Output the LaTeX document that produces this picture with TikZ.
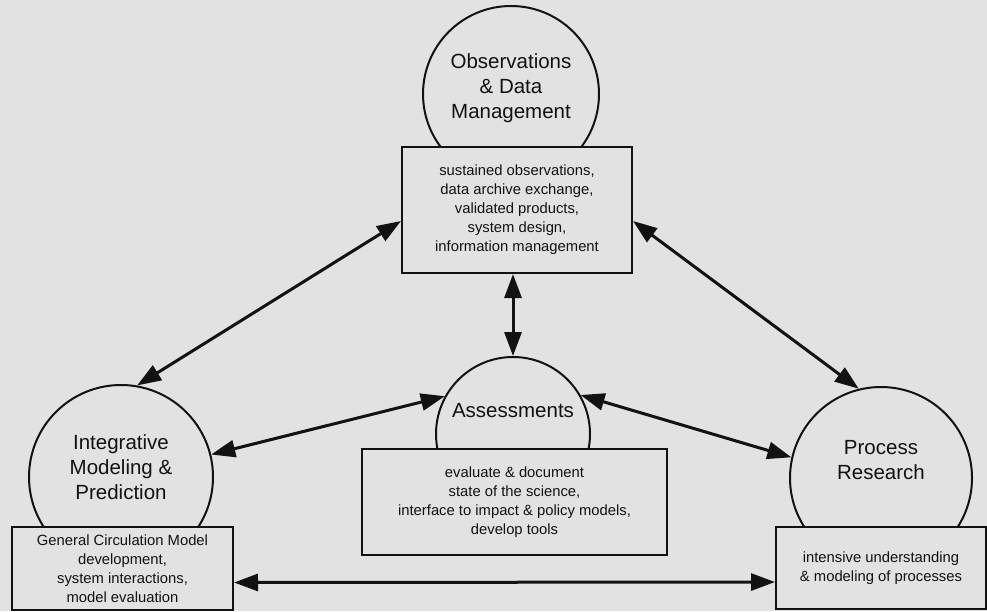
\documentclass[tikz,border=0pt]{standalone}
\usepackage{fontspec}
\setmainfont{Liberation Sans}
\usepackage{tikz}
\usetikzlibrary{arrows.meta,positioning,calc}
\definecolor{paper}{RGB}{226,226,226}
\definecolor{ink}{RGB}{18,18,18}

\tikzset{
  disc/.style={circle,draw=ink,line width=2pt,fill=paper,inner sep=0pt},
  infobox/.style={rectangle,draw=ink,line width=2pt,fill=paper,align=center,
    text=ink,inner sep=0pt,font=\fontsize{14.8}{19}\selectfont},
  headtxt/.style={align=center,text=ink,font=\fontsize{20.5}{25}\selectfont},
  link/.style={ink,line width=3pt,{Triangle[length=24pt,width=17pt]}-{Triangle[length=24pt,width=17pt]}}
}

\begin{document}
\begin{tikzpicture}[x=1pt,y=-1pt]
\fill[paper] (0,0) rectangle (987,611);
\useasboundingbox (0,0) rectangle (987,611);

% circles
\node[disc,minimum size=176pt] (obs) at (511,94) {};
\node[disc,minimum size=184pt] (imp) at (121,477) {};
\node[disc,minimum size=154pt] (ass) at (513,434) {};
\node[disc,minimum size=182pt] (proc) at (881,478) {};

% boxes in front of the circles
\node[infobox,minimum width=230pt,minimum height=126pt] (obsbox) at (517,210)
  {sustained observations,\\data archive exchange,\\validated products,\\system design,\\information management};
\node[infobox,minimum width=221pt,minimum height=83pt] (impbox) at (122.5,568.5)
  {General Circulation Model\\development,\\system interactions,\\model evaluation};
\node[infobox,minimum width=305pt,minimum height=106pt] (assbox) at (514.5,502)
  {evaluate \& document\\state of the science,\\interface to impact \& policy models,\\develop tools};
\node[infobox,minimum width=210pt,minimum height=82pt] (procbox) at (881,568)
  {intensive understanding\\\& modeling of processes};

% titles
\node[headtxt] (obstxt) at (511,88) {Observations\\\& Data\\Management};
\node[headtxt] (imptxt) at (121,467) {Integrative\\Modeling \&\\Prediction};
\node[headtxt] (asstxt) at (513,411) {Assessments};
\node[headtxt] (proctxt) at (881,460) {Process\\Research};

% links
\draw[link] ([yshift=-11pt]obsbox.west) -- (imp.80);
\draw[link] ([yshift=-11pt]obsbox.east) -- (proc.104);
\draw[link] (obsbox.south -| ass.north) -- (ass.north);
\draw[link] (ass.151) -- (imp.14);
\draw[link] (ass.30) -- (proc.167);
\draw[link] ([yshift=-14pt]impbox.east) -- ([yshift=-14pt]procbox.west);
\end{tikzpicture}
\end{document}
